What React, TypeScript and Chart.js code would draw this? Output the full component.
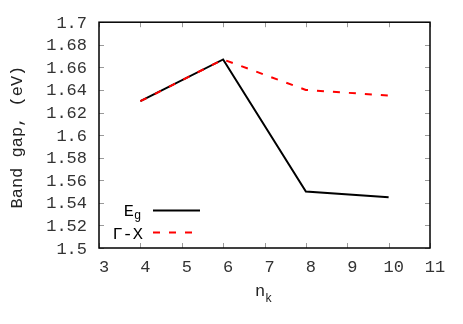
import React, { useEffect, useRef } from "react";
import { Chart, registerables } from "chart.js";

Chart.register(...registerables);

const nk = [4, 6, 8, 10];
const egValues = [1.63, 1.667, 1.55, 1.545];
const gxValues = [1.63, 1.667, 1.64, 1.635];
const xMin = 3;
const xMax = 11;
const yMin = 1.5;
const yMax = 1.7;
const yStep = 0.02;
const yTitle = "Band gap, (eV)";
const xTitleMain = "n";
const xTitleSub = "k";
const egLabelMain = "E";
const egLabelSub = "g";
const gxLabel = "Γ-X";

const MONO = '"Liberation Mono", "DejaVu Sans Mono", monospace';

const framePlugin = {
  id: "gnuplotFrame",
  afterDatasetsDraw(chart: any) {
    const { ctx, chartArea } = chart;
    const { left, right, top, bottom } = chartArea;
    const xs = chart.scales.x;
    const ys = chart.scales.y;
    ctx.save();
    // inward ticks on all sides
    ctx.strokeStyle = "#9a9a9a";
    ctx.lineWidth = 1;
    const tl = 5;
    xs.ticks.forEach((t: any) => {
      const px = Math.round(xs.getPixelForValue(t.value)) + 0.5;
      ctx.beginPath();
      ctx.moveTo(px, bottom);
      ctx.lineTo(px, bottom - tl);
      ctx.moveTo(px, top);
      ctx.lineTo(px, top + tl);
      ctx.stroke();
    });
    ys.ticks.forEach((t: any) => {
      const py = Math.round(ys.getPixelForValue(t.value)) + 0.5;
      ctx.beginPath();
      ctx.moveTo(left, py);
      ctx.lineTo(left + tl, py);
      ctx.moveTo(right, py);
      ctx.lineTo(right - tl, py);
      ctx.stroke();
    });
    // border
    ctx.strokeStyle = "#000";
    ctx.lineWidth = 1.5;
    ctx.strokeRect(left, top, right - left, bottom - top);

    // legend
    ctx.fillStyle = "#000";
    ctx.textBaseline = "alphabetic";
    ctx.font = `17px ${MONO}`;
    ctx.textAlign = "right";
    ctx.fillText(egLabelMain, 134, 216);
    ctx.font = `12px ${MONO}`;
    ctx.textAlign = "left";
    ctx.fillText(egLabelSub, 134, 219);
    ctx.font = `17px ${MONO}`;
    ctx.textAlign = "right";
    ctx.fillText(gxLabel, 143, 239);

    ctx.lineWidth = 2;
    ctx.strokeStyle = "#000";
    ctx.setLineDash([]);
    ctx.beginPath();
    ctx.moveTo(153, 210.5);
    ctx.lineTo(200, 210.5);
    ctx.stroke();
    ctx.strokeStyle = "#ff0000";
    ctx.setLineDash([7, 9]);
    ctx.beginPath();
    ctx.moveTo(153, 232.5);
    ctx.lineTo(200, 232.5);
    ctx.stroke();
    ctx.setLineDash([]);

    // x title
    ctx.fillStyle = "#222";
    ctx.font = `17px ${MONO}`;
    ctx.textAlign = "left";
    ctx.fillText(xTitleMain, 255, 296);
    ctx.font = `12px ${MONO}`;
    ctx.fillText(xTitleSub, 265, 302);

    // y title
    ctx.save();
    ctx.translate(17, (top + bottom) / 2 + 2);
    ctx.rotate(-Math.PI / 2);
    ctx.font = `17px ${MONO}`;
    ctx.textAlign = "center";
    ctx.textBaseline = "middle";
    ctx.fillText(yTitle, 0, 0);
    ctx.restore();

    ctx.restore();
  },
};

export default function App() {
  const ref = useRef<HTMLCanvasElement | null>(null);
  useEffect(() => {
    if (!ref.current) return;
    const chart = new Chart(ref.current, {
      type: "line",
      data: {
        datasets: [
          {
            label: gxLabel,
            data: nk.map((x, i) => ({ x, y: gxValues[i] })),
            borderColor: "#ff0000",
            borderWidth: 2,
            borderDash: [7, 9],
            pointRadius: 0,
            fill: false,
            tension: 0,
          },
          {
            label: "Eg",
            data: nk.map((x, i) => ({ x, y: egValues[i] })),
            borderColor: "#000000",
            borderWidth: 2,
            pointRadius: 0,
            fill: false,
            tension: 0,
          },
        ],
      },
      options: {
        responsive: false,
        animation: false,
        layout: { padding: { left: 0, top: 21, right: 33, bottom: 0 } },
        plugins: {
          legend: { display: false },
          tooltip: { enabled: false },
        },
        scales: {
          x: {
            type: "linear",
            min: xMin,
            max: xMax,
            ticks: {
              stepSize: 1,
              autoSkip: false,
              color: "#333",
              font: { family: MONO, size: 17 },
              padding: 9,
              labelOffset: 5,
              maxRotation: 0,
            },
            grid: { display: false, drawTicks: false },
            border: { display: false },
            afterFit: (s: any) => {
              s.height = 76;
            },
          },
          y: {
            type: "linear",
            min: yMin,
            max: yMax,
            ticks: {
              stepSize: yStep,
              autoSkip: false,
              color: "#333",
              font: { family: MONO, size: 17 },
              padding: 12,
              labelOffset: 1,
              callback: (v: any) => String(Number(Number(v).toFixed(2))),
            },
            grid: { display: false, drawTicks: false },
            border: { display: false },
            afterFit: (s: any) => {
              s.width = 99;
            },
          },
        },
      },
      plugins: [framePlugin],
    });
    return () => chart.destroy();
  }, []);
  return (
    <div style={{ position: "absolute", left: 0, top: 0, width: 463, height: 324, background: "#fff" }}>
      <canvas ref={ref} width={463} height={324} style={{ display: "block" }} />
    </div>
  );
}
